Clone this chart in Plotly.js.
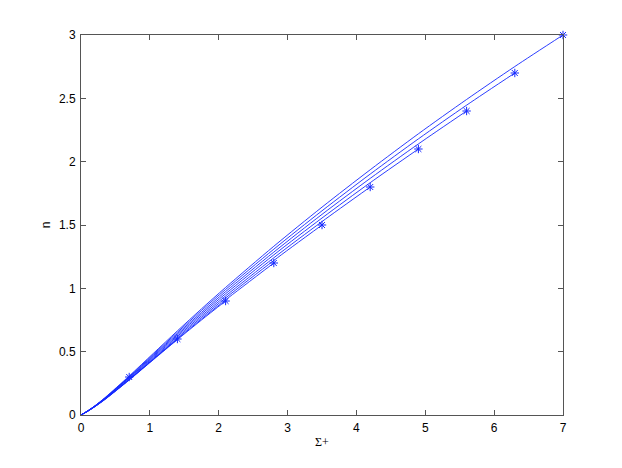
<!DOCTYPE html>
<html>
<head>
<meta charset="utf-8">
<script src="https://cdn.plot.ly/plotly-3.0.1.min.js"></script>
<style>
  body { margin: 0; background: #fff; }
  #plot { width: 622px; height: 468px; }
</style>
</head>
<body>
<div id="plot"></div>
<script>
// sample points along sigma, shared by all curves (each curve stops at its star)
var sigmaGrid = [0, 0.1, 0.2, 0.35, 0.7, 1.05, 1.4, 1.75, 2.1, 2.8, 3.5, 4.2, 4.9, 5.6, 6.3, 7.0];

// n values
var n1  = [0, 0.033, 0.071, 0.134, 0.300];
var n2  = [0, 0.030, 0.066, 0.125, 0.278, 0.440, 0.600];
var n3  = [0, 0.030, 0.065, 0.123, 0.276, 0.436, 0.595, 0.750, 0.900];
var n4  = [0, 0.031, 0.066, 0.125, 0.279, 0.440, 0.601, 0.758, 0.909, 1.200];
var n5  = [0, 0.031, 0.067, 0.127, 0.283, 0.447, 0.610, 0.770, 0.924, 1.220, 1.500];
var n6  = [0, 0.032, 0.068, 0.129, 0.288, 0.455, 0.621, 0.783, 0.940, 1.241, 1.527, 1.800];
var n7  = [0, 0.032, 0.069, 0.131, 0.293, 0.463, 0.632, 0.797, 0.957, 1.264, 1.555, 1.834, 2.100];
var n8  = [0, 0.033, 0.070, 0.133, 0.298, 0.470, 0.642, 0.810, 0.974, 1.286, 1.584, 1.868, 2.140, 2.400];
var n9  = [0, 0.033, 0.071, 0.135, 0.303, 0.478, 0.653, 0.825, 0.991, 1.309, 1.612, 1.902, 2.180, 2.446, 2.700];
var n10 = [0, 0.034, 0.072, 0.138, 0.308, 0.486, 0.664, 0.838, 1.007, 1.332, 1.641, 1.936, 2.220, 2.491, 2.751, 3.000];

// end points marked with stars
var starSigma = [0.7, 1.4, 2.1, 2.8, 3.5, 4.2, 4.9, 5.6, 6.3, 7.0];
var starN     = [0.3, 0.6, 0.9, 1.2, 1.5, 1.8, 2.1, 2.4, 2.7, 3.0];

var blue = 'rgb(20,40,255)';
var curves = [n1, n2, n3, n4, n5, n6, n7, n8, n9, n10];

var data = [];
curves.forEach(function(ys) {
  data.push({
    type: 'scatter',
    mode: 'lines',
    x: sigmaGrid.slice(0, ys.length),
    y: ys,
    line: {color: blue, width: 0.9, shape: 'spline', smoothing: 0.8},
    hoverinfo: 'skip'
  });
});
data.push({
  type: 'scatter',
  mode: 'markers',
  x: starSigma,
  y: starN,
  cliponaxis: false,
  marker: {symbol: 'asterisk-open', size: 7, color: blue, line: {color: blue, width: 1}}
});

var axisStyle = {
  showgrid: false,
  zeroline: false,
  showline: true,
  linecolor: '#555',
  linewidth: 1,
  mirror: 'ticks',
  ticks: 'inside',
  ticklen: 5,
  tickwidth: 1,
  tickcolor: '#555',
  tickfont: {family: 'Liberation Sans, Arial, sans-serif', size: 12, color: '#000'}
};

var layout = {
  width: 622,
  height: 468,
  margin: {l: 81, r: 59, t: 35, b: 53},
  paper_bgcolor: '#fff',
  plot_bgcolor: '#fff',
  showlegend: false,
  xaxis: Object.assign({}, axisStyle, {
    range: [0, 7],
    dtick: 1,
    tick0: 0,
    ticklabelstandoff: 2,
    title: {text: 'Σ+', font: {family: 'Liberation Serif, serif', size: 12, color: '#000'}, standoff: 3}
  }),
  yaxis: Object.assign({}, axisStyle, {
    range: [0, 3],
    dtick: 0.5,
    tick0: 0,
    ticklabelstandoff: 2,
    title: {text: 'n', font: {family: 'Liberation Sans, Arial, sans-serif', size: 12, color: '#000'}, standoff: 5}
  })
};

Plotly.newPlot('plot', data, layout, {displayModeBar: false, staticPlot: true});
</script>
</body>
</html>
